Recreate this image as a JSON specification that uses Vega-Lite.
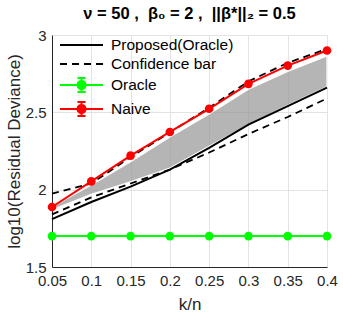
{
  "$schema": "https://vega.github.io/schema/vega-lite/v6.json",
  "width": 275,
  "height": 232,
  "autosize": "none",
  "padding": {"left": 52, "top": 35, "right": 16, "bottom": 49},
  "config": {
    "font": "Liberation Sans",
    "view": {"stroke": null},
    "axis": {
      "domainColor": "#262626",
      "labelColor": "#262626",
      "titleColor": "#262626",
      "gridColor": "#e3e3e3",
      "gridWidth": 1,
      "labelFontSize": 15,
      "titleFontSize": 17,
      "titleFontWeight": "normal",
      "ticks": false
    }
  },
  "title": {
    "text": "ν = 50 ,\u00a0\u00a0β₀ = 2 ,\u00a0\u00a0||β*||₂ = 0.5",
    "fontSize": 16.5,
    "fontWeight": "bold",
    "color": "#000000",
    "anchor": "middle",
    "offset": 6
  },
  "datasets": {
    "lines": [
      {"k": 0.05, "series": "Proposed(Oracle)", "part": "p", "v": 1.81},
      {"k": 0.10, "series": "Proposed(Oracle)", "part": "p", "v": 1.92},
      {"k": 0.15, "series": "Proposed(Oracle)", "part": "p", "v": 2.02},
      {"k": 0.20, "series": "Proposed(Oracle)", "part": "p", "v": 2.13},
      {"k": 0.25, "series": "Proposed(Oracle)", "part": "p", "v": 2.27},
      {"k": 0.30, "series": "Proposed(Oracle)", "part": "p", "v": 2.42},
      {"k": 0.35, "series": "Proposed(Oracle)", "part": "p", "v": 2.54},
      {"k": 0.40, "series": "Proposed(Oracle)", "part": "p", "v": 2.66},
      {"k": 0.05, "series": "Confidence bar", "part": "upper", "v": 1.975},
      {"k": 0.10, "series": "Confidence bar", "part": "upper", "v": 2.04},
      {"k": 0.15, "series": "Confidence bar", "part": "upper", "v": 2.21},
      {"k": 0.20, "series": "Confidence bar", "part": "upper", "v": 2.37},
      {"k": 0.25, "series": "Confidence bar", "part": "upper", "v": 2.53},
      {"k": 0.30, "series": "Confidence bar", "part": "upper", "v": 2.70},
      {"k": 0.35, "series": "Confidence bar", "part": "upper", "v": 2.82},
      {"k": 0.40, "series": "Confidence bar", "part": "upper", "v": 2.91},
      {"k": 0.05, "series": "Confidence bar", "part": "lower", "v": 1.84},
      {"k": 0.10, "series": "Confidence bar", "part": "lower", "v": 1.95},
      {"k": 0.15, "series": "Confidence bar", "part": "lower", "v": 2.04},
      {"k": 0.20, "series": "Confidence bar", "part": "lower", "v": 2.13},
      {"k": 0.25, "series": "Confidence bar", "part": "lower", "v": 2.24},
      {"k": 0.30, "series": "Confidence bar", "part": "lower", "v": 2.36},
      {"k": 0.35, "series": "Confidence bar", "part": "lower", "v": 2.47},
      {"k": 0.40, "series": "Confidence bar", "part": "lower", "v": 2.59},
      {"k": 0.05, "series": "Oracle", "part": "o", "v": 1.70},
      {"k": 0.10, "series": "Oracle", "part": "o", "v": 1.70},
      {"k": 0.15, "series": "Oracle", "part": "o", "v": 1.70},
      {"k": 0.20, "series": "Oracle", "part": "o", "v": 1.70},
      {"k": 0.25, "series": "Oracle", "part": "o", "v": 1.70},
      {"k": 0.30, "series": "Oracle", "part": "o", "v": 1.70},
      {"k": 0.35, "series": "Oracle", "part": "o", "v": 1.70},
      {"k": 0.40, "series": "Oracle", "part": "o", "v": 1.70},
      {"k": 0.05, "series": "Naive", "part": "n", "v": 1.888},
      {"k": 0.10, "series": "Naive", "part": "n", "v": 2.054},
      {"k": 0.15, "series": "Naive", "part": "n", "v": 2.22},
      {"k": 0.20, "series": "Naive", "part": "n", "v": 2.373},
      {"k": 0.25, "series": "Naive", "part": "n", "v": 2.523},
      {"k": 0.30, "series": "Naive", "part": "n", "v": 2.684},
      {"k": 0.35, "series": "Naive", "part": "n", "v": 2.802},
      {"k": 0.40, "series": "Naive", "part": "n", "v": 2.90}
    ],
    "band": [
      {"k": 0.05, "lo": 1.87, "hi": 1.89},
      {"k": 0.10, "lo": 1.97, "hi": 2.03},
      {"k": 0.15, "lo": 2.05, "hi": 2.18},
      {"k": 0.20, "lo": 2.14, "hi": 2.34},
      {"k": 0.25, "lo": 2.28, "hi": 2.49},
      {"k": 0.30, "lo": 2.42, "hi": 2.65},
      {"k": 0.35, "lo": 2.545, "hi": 2.765},
      {"k": 0.40, "lo": 2.665, "hi": 2.865}
    ]
  },
  "encoding": {
    "x": {
      "field": "k",
      "type": "quantitative",
      "scale": {"domain": [0.05, 0.4], "nice": false, "zero": false},
      "axis": {
        "title": "k/n",
        "values": [0.05, 0.1, 0.15, 0.2, 0.25, 0.3, 0.35, 0.4],
        "format": ".2~f",
        "labelPadding": 6,
        "titlePadding": 8,
        "labelFlush": false
      }
    }
  },
  "layer": [
    {
      "data": {"name": "band"},
      "mark": {"type": "area", "color": "#959595", "fillOpacity": 0.7, "stroke": "#ffffff", "strokeWidth": 1.2},
      "encoding": {
        "y": {
          "field": "lo",
          "type": "quantitative",
          "scale": {"domain": [1.5, 3], "nice": false, "zero": false},
          "axis": {
            "title": "log10(Residual Deviance)",
            "values": [1.5, 2, 2.5, 3],
            "format": ".1~f",
            "labelPadding": 6,
            "titlePadding": 1.5,
            "labelFlush": false
          }
        },
        "y2": {"field": "hi"}
      }
    },
    {
      "data": {"name": "lines"},
      "transform": [{"filter": "datum.series === 'Confidence bar'"}],
      "mark": {"type": "line", "strokeWidth": 1.8, "strokeDash": [7, 5]},
      "encoding": {
        "y": {"field": "v", "type": "quantitative"},
        "detail": {"field": "part"},
        "color": {"field": "series", "type": "nominal"}
      }
    },
    {
      "data": {"name": "lines"},
      "transform": [{"filter": "datum.series !== 'Confidence bar'"}],
      "mark": {"type": "line", "strokeWidth": 2},
      "encoding": {
        "y": {"field": "v", "type": "quantitative"},
        "detail": {"field": "part"},
        "color": {
          "field": "series",
          "type": "nominal",
          "scale": {
            "domain": ["Proposed(Oracle)", "Confidence bar", "Oracle", "Naive"],
            "range": ["#000000", "#000000", "#00ff00", "#ff0000"]
          },
          "legend": {
            "title": null,
            "orient": "none",
            "legendX": 19.5,
            "legendY": 0,
            "labelFontSize": 15.5,
            "labelColor": "#000000",
            "labelOffset": 19.5,
            "symbolSize": 324,
            "symbolStrokeWidth": 2,
            "rowPadding": 0,
            "padding": 0,
            "encode": {
              "symbols": {
                "update": {
                  "shape": {"signal": "(datum.value === 'Oracle' || datum.value === 'Naive') ? 'M-2.39,0H2.39M0,-0.78V0.78M-0.45,-0.78H0.45M-0.45,0.78H0.45M0.46,0L0.398,0.23L0.23,0.398L0,0.46L-0.23,0.398L-0.398,0.23L-0.46,0L-0.398,-0.23L-0.23,-0.398L0,-0.46L0.23,-0.398L0.398,-0.23Z' : 'M-2.39,0H2.39'"},
                  "strokeDash": {"signal": "datum.value === 'Confidence bar' ? [7,5] : [1,0]"},
                  "stroke": {"signal": "datum.value === 'Oracle' ? '#00ff00' : datum.value === 'Naive' ? '#ff0000' : '#000000'"},
                  "fill": {"signal": "datum.value === 'Oracle' ? '#00ff00' : datum.value === 'Naive' ? '#ff0000' : 'transparent'"},
                  "strokeWidth": {"value": 2},
                  "opacity": {"value": 1}
                }
              }
            }
          }
        }
      }
    },
    {
      "data": {"name": "lines"},
      "transform": [{"filter": "datum.series === 'Oracle' || datum.series === 'Naive'"}],
      "mark": {"type": "point", "filled": true, "size": 75, "opacity": 1},
      "encoding": {
        "y": {"field": "v", "type": "quantitative"},
        "color": {"field": "series", "type": "nominal"}
      }
    }
  ]
}
